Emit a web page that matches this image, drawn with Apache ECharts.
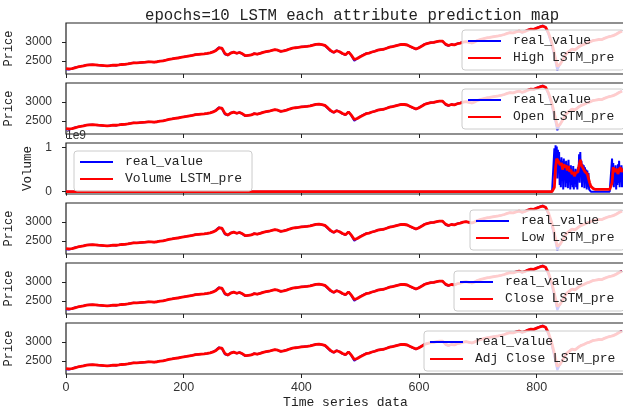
<!DOCTYPE html>
<html>
<head>
<meta charset="utf-8">
<script src="https://cdn.jsdelivr.net/npm/echarts@6/dist/echarts.min.js"></script>
<style>
  html, body { margin: 0; padding: 0; background: #fff; }
  #chart { width: 623px; height: 413px; }
</style>
</head>
<body>
<div id="chart"></div>
<script>
// price samples, one every 5 time steps (0..945)
const priceStep = 5;
const realPrice = [
  2285, 2280, 2295, 2330, 2345, 2360, 2380, 2395, 2400, 2405,
  2395, 2390, 2385, 2375, 2370, 2385, 2395, 2385, 2400, 2410,
  2415, 2425, 2440, 2455, 2450, 2460, 2465, 2470, 2480, 2475,
  2470, 2485, 2500, 2505, 2525, 2545, 2555, 2575, 2580, 2600,
  2610, 2625, 2635, 2650, 2670, 2675, 2685, 2690, 2700, 2720,
  2745, 2790, 2860, 2830, 2680, 2650, 2720, 2735, 2700, 2730,
  2680, 2630, 2650, 2660, 2700, 2680, 2705, 2730, 2745, 2760,
  2780, 2800, 2780, 2750, 2770, 2790, 2820, 2840, 2850, 2860,
  2875, 2880, 2890, 2900, 2920, 2940, 2945, 2930, 2910, 2830,
  2760, 2720, 2780, 2740, 2690, 2660, 2750, 2640, 2510, 2570,
  2620, 2660, 2700, 2710, 2740, 2760, 2790, 2805, 2810, 2840,
  2870, 2880, 2900, 2920, 2940, 2935, 2920, 2880, 2840, 2810,
  2860, 2900, 2950, 2970, 2985, 2990, 3010, 3030, 3020, 2930,
  2900, 2940, 2920, 2960, 2975, 3000, 3010, 2990, 2970, 3010,
  3050, 3070, 3090, 3110, 3120, 3140, 3150, 3160, 3180, 3200,
  3230, 3250, 3240, 3270, 3290, 3250, 3280, 3320, 3340, 3330,
  3370, 3400, 3430, 3380, 3200, 2950, 2620, 2260, 2430, 2560,
  2700, 2760, 2820, 2790, 2860, 2910, 2940, 2980, 3000, 3040,
  3050, 3070, 3060, 3100, 3130, 3150, 3170, 3210, 3260, 3290
];
const predPrice = [
  2300, 2295, 2300, 2320, 2345, 2360, 2375, 2395, 2400, 2405,
  2400, 2392, 2388, 2380, 2372, 2380, 2395, 2390, 2398, 2410,
  2415, 2425, 2438, 2452, 2452, 2458, 2465, 2470, 2478, 2478,
  2472, 2482, 2498, 2505, 2522, 2542, 2555, 2572, 2580, 2598,
  2610, 2622, 2635, 2648, 2668, 2676, 2684, 2690, 2700, 2716,
  2740, 2780, 2845, 2840, 2700, 2660, 2710, 2735, 2705, 2725,
  2690, 2640, 2650, 2660, 2695, 2685, 2702, 2728, 2745, 2758,
  2778, 2798, 2785, 2755, 2768, 2788, 2816, 2838, 2850, 2858,
  2872, 2880, 2888, 2898, 2918, 2936, 2942, 2930, 2912, 2845,
  2775, 2728, 2772, 2745, 2698, 2668, 2740, 2655, 2540, 2568,
  2615, 2655, 2695, 2710, 2738, 2758, 2788, 2803, 2810, 2838,
  2866, 2878, 2898, 2918, 2936, 2935, 2922, 2885, 2848, 2815,
  2852, 2895, 2942, 2966, 2982, 2990, 3008, 3026, 3022, 2945,
  2908, 2935, 2925, 2955, 2972, 2996, 3008, 2992, 2975, 3005,
  3045, 3068, 3088, 3108, 3120, 3138, 3150, 3160, 3178, 3198,
  3226, 3248, 3242, 3266, 3286, 3256, 3278, 3315, 3338, 3332,
  3365, 3395, 3420, 3390, 3240, 3010, 2700, 2360, 2420, 2550,
  2690, 2755, 2815, 2795, 2855, 2905, 2936, 2975, 2998, 3036,
  3048, 3066, 3062, 3096, 3126, 3146, 3168, 3205, 3252, 3285
];

// volume in units of 1e9, flat at 0 before volStart
const volStart = 826;
const volumeReal = [
  0, 0, 0, 0.02,
  0.98, 0.4, 1.05, 0.6, 1.02, 0.3, 0.95, 0.5, 0.9, 0.15,
  0.72, 0.1, 0.78, 0.25, 0.7, 0.05, 0.75, 0.3, 0.68, 0.1,
  0.7, 0.2, 0.62, 0.08, 0.72, 0.3, 0.55, 0.05, 0.6, 0.15,
  0.5, 0.1, 0.58, 0.05, 0.45, 0.2, 0.52, 0.1, 0.48, 0.05,
  0.55, 0.3, 0.85, 0.2, 0.9, 0.4, 0.7, 0.1, 0.62, 0.25,
  0.6, 0.08, 0.55, 0.2, 0.5, 0.05, 0.48, 0.1, 0.42, 0.05,
  0.02, 0.01, 0, 0, 0, 0, 0, 0, 0, 0,
  0, 0, 0, 0, 0, 0, 0, 0, 0, 0,
  0, 0, 0, 0, 0, 0, 0, 0, 0, 0,
  0, 0, 0, 0, 0, 0, 0, 0,
  0.75, 0.2, 0.65, 0.1, 0.55, 0.3, 0.6, 0.05, 0.5, 0.15,
  0.62, 0.2, 0.7, 0.1, 0.55, 0.25, 0.6, 0.1, 0.5, 0.2,
  0.55, 0.1, 0.6
];
// predicted volume, one value every 2 steps from volStart
const volumePred = [
  0, 0, 0.1, 0.55, 0.75, 0.7, 0.72, 0.6, 0.65, 0.5,
  0.62, 0.55, 0.6, 0.48, 0.58, 0.45, 0.5, 0.4, 0.45, 0.35,
  0.42, 0.38, 0.45, 0.6, 0.72, 0.6, 0.55, 0.5, 0.45, 0.48,
  0.4, 0.38, 0.2, 0.12, 0.09, 0.07, 0.06, 0.05, 0.05, 0.05,
  0.05, 0.05, 0.05, 0.05, 0.05, 0.05, 0.05, 0.05, 0.05, 0.05,
  0.05, 0.2, 0.55, 0.5, 0.45, 0.52, 0.4, 0.5, 0.55, 0.45,
  0.5, 0.48, 0.5
];

const attributes = ['High', 'Open', 'Volume', 'Low', 'Close', 'Adj Close'];
const xTicks = [0, 200, 400, 600, 800];
const priceTicks = [2500, 3000];
const volumeTicks = [0, 1];

const monoFont = 'Liberation Mono';
const legendSpots = [[462, 30], [462, 89], [74, 151], [470, 210], [454, 271], [424, 331]];

function pricePairs(arr) {
  return arr.map((v, i) => [i * priceStep, v]);
}
function volumePairs(arr, step) {
  return [[0, 0]].concat(arr.map((v, i) => [volStart + i * step, v]));
}

const grids = [], xAxes = [], yAxes = [], legends = [], series = [];

attributes.forEach((attr, i) => {
  const isVol = attr === 'Volume';
  const last = i === attributes.length - 1;
  grids.push({
    left: 66, right: -2, top: 23 + 60 * i, height: 51,
    containLabel: false, outerBoundsMode: 'none',
    show: true, borderColor: '#222', borderWidth: 1.2, backgroundColor: '#fff'
  });
  xAxes.push({
    gridIndex: i, type: 'value', min: 0, max: 950,
    axisLine: { show: false },
    splitLine: { show: false },
    axisTick: { show: true, length: 4, lineStyle: { color: '#222' }, customValues: xTicks },
    axisLabel: { show: last, customValues: xTicks, margin: 7, color: '#333', fontFamily: 'Liberation Sans', fontSize: 12.5, formatter: v => String(v) },
    name: last ? 'Time series data' : '',
    nameLocation: 'middle', nameGap: 22,
    nameTextStyle: { fontFamily: monoFont, fontSize: 13, color: '#222' }
  });
  yAxes.push({
    gridIndex: i, type: 'value',
    min: isVol ? -0.0525 : 2160, max: isVol ? 1.1025 : 3500,
    axisLine: { show: false },
    splitLine: { show: false },
    axisTick: { show: true, length: 4, lineStyle: { color: '#222' }, customValues: isVol ? volumeTicks : priceTicks },
    axisLabel: { customValues: isVol ? volumeTicks : priceTicks, margin: 14, color: '#333', fontFamily: 'Liberation Sans', fontSize: 12, formatter: v => String(v) },
    name: isVol ? 'Volume' : 'Price',
    nameLocation: 'middle', nameGap: isVol ? 24 : 46,
    nameTextStyle: { fontFamily: monoFont, fontSize: isVol ? 12.5 : 12, color: '#222' }
  });
  const predName = attr + ' LSTM_pre';
  legends.push({
    left: legendSpots[i][0], top: legendSpots[i][1],
    orient: 'vertical', selectedMode: false,
    data: ['real_value', predName],
    icon: 'rect', itemWidth: 33, itemHeight: 2, itemGap: 3,
    itemStyle: { borderWidth: 0 },
    padding: [4, 10, 5, 6],
    backgroundColor: 'rgba(255,255,255,0.8)',
    borderColor: '#ccc', borderWidth: 1, borderRadius: 3,
    textStyle: { fontFamily: monoFont, fontSize: 13, color: '#222', lineHeight: 14, padding: [0, 0, 0, 7] }
  });
  series.push({
    name: 'real_value', type: 'line', xAxisIndex: i, yAxisIndex: i,
    data: isVol ? volumePairs(volumeReal, 1) : pricePairs(realPrice),
    showSymbol: false, color: '#0000ff',
    lineStyle: { color: '#0000ff', width: 2 }
  });
  series.push({
    name: predName, type: 'line', xAxisIndex: i, yAxisIndex: i,
    data: isVol ? volumePairs(volumePred, 2) : pricePairs(predPrice),
    showSymbol: false, color: '#ff0000',
    lineStyle: { color: '#ff0000', width: 2.8 }
  });
});

const chart = echarts.init(document.getElementById('chart'));
chart.setOption({
  animation: false,
  title: {
    text: 'epochs=10 LSTM each attribute prediction map',
    left: 140, top: 3,
    textStyle: { fontFamily: monoFont, fontSize: 15.7, fontWeight: 'normal', color: '#222' }
  },
  graphic: [{
    type: 'text', left: 66, top: 130,
    style: { text: '1e9', font: '12px Liberation Sans', fill: '#333' }
  }],
  grid: grids,
  xAxis: xAxes,
  yAxis: yAxes,
  legend: legends,
  series: series
});
</script>
</body>
</html>
